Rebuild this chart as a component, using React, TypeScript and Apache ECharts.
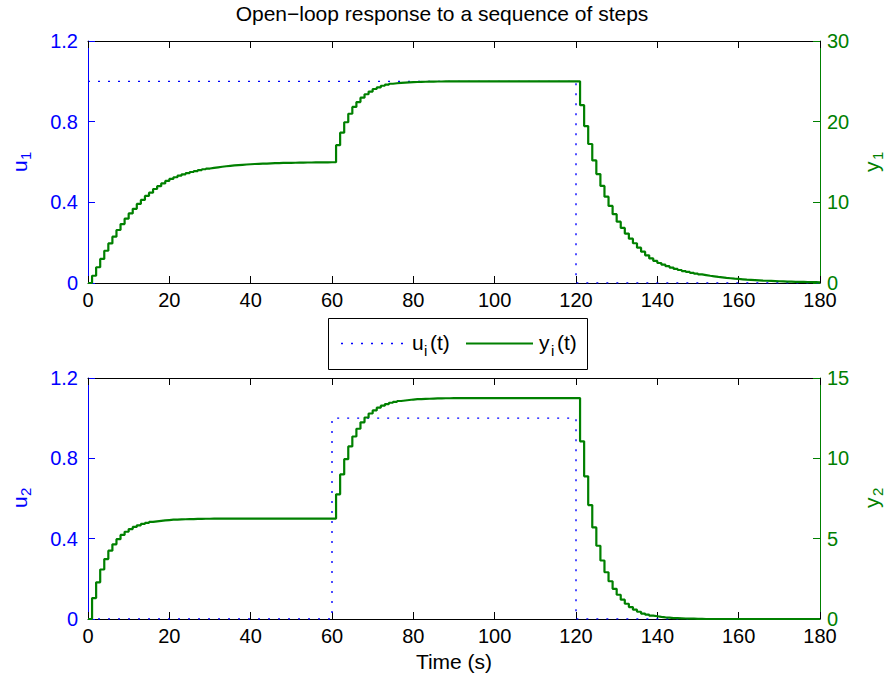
import React, { useEffect, useRef } from "react";
import * as echarts from "echarts";

// ---- data ----
const SAMPLE_TIME = 1; // seconds between samples of y1 / y2
const xTickValues = [0, 20, 40, 60, 80, 100, 120, 140, 160, 180];
const leftTicks = [0, 0.4, 0.8, 1.2];
const rightTicksTop = [0, 10, 20, 30];
const rightTicksBottom = [0, 5, 10, 15];

// input step sequences (held values, stairs)
const uTimes = [0, 60, 120, 180];
const u1Values = [1, 1, 0, 0];
const u2Values = [0, 1, 0, 0];

// sampled outputs, t = 0..180 s
const y1Values = [
  0, 0.9, 1.95, 2.98, 4.0, 4.9, 5.74, 6.57, 7.3, 7.97,
  8.63, 9.2, 9.8, 10.3, 10.8, 11.2, 11.65, 12.0, 12.35, 12.65,
  12.9, 13.11, 13.3, 13.47, 13.62, 13.76, 13.88, 14.0, 14.1, 14.19,
  14.27, 14.34, 14.41, 14.47, 14.52, 14.57, 14.61, 14.65, 14.69, 14.72,
  14.75, 14.77, 14.79, 14.81, 14.83, 14.85, 14.86, 14.88, 14.89, 14.9,
  14.91, 14.92, 14.93, 14.94, 14.94, 14.95, 14.95, 14.96, 14.96, 14.97,
  14.97, 17.08, 18.63, 19.93, 20.98, 21.83, 22.43, 22.98, 23.4, 23.73,
  24.05, 24.25, 24.45, 24.58, 24.7, 24.76, 24.81, 24.85, 24.88, 24.9,
  24.92, 24.94, 24.95, 24.96, 24.97, 24.98, 24.98, 24.99, 24.99, 25,
  25, 25, 25, 25, 25, 25, 25, 25, 25, 25,
  25, 25, 25, 25, 25, 25, 25, 25, 25, 25,
  25, 25, 25, 25, 25, 25, 25, 25, 25, 25,
  25, 22.05, 19.45, 17.23, 15.2, 13.5, 12.03, 10.7, 9.55, 8.53,
  7.6, 6.83, 6.13, 5.5, 4.93, 4.38, 3.88, 3.43, 3.05, 2.74,
  2.48, 2.27, 2.08, 1.91, 1.75, 1.61, 1.48, 1.37, 1.26, 1.16,
  1.06, 0.98, 0.9, 0.83, 0.76, 0.7, 0.64, 0.59, 0.54, 0.5,
  0.46, 0.42, 0.39, 0.36, 0.33, 0.3, 0.28, 0.26, 0.24, 0.22,
  0.2, 0.18, 0.17, 0.15, 0.14, 0.13, 0.12, 0.11, 0.1, 0.09,
  0.08,
];

const y2Values = [
  0, 1.3, 2.28, 3.08, 3.73, 4.25, 4.65, 4.97, 5.23, 5.43,
  5.6, 5.73, 5.83, 5.92, 5.98, 6.04, 6.08, 6.11, 6.14, 6.16,
  6.18, 6.19, 6.2, 6.21, 6.22, 6.22, 6.23, 6.23, 6.24, 6.24,
  6.25, 6.25, 6.25, 6.25, 6.25, 6.25, 6.25, 6.25, 6.25, 6.25,
  6.25, 6.25, 6.25, 6.25, 6.25, 6.25, 6.25, 6.25, 6.25, 6.25,
  6.25, 6.25, 6.25, 6.25, 6.25, 6.25, 6.25, 6.25, 6.25, 6.25,
  6.25, 7.76, 9.0, 9.95, 10.74, 11.36, 11.84, 12.24, 12.54, 12.79,
  12.98, 13.15, 13.28, 13.38, 13.46, 13.52, 13.57, 13.6, 13.63, 13.66,
  13.68, 13.69, 13.7, 13.71, 13.72, 13.73, 13.73, 13.74, 13.74, 13.75,
  13.75, 13.75, 13.75, 13.75, 13.75, 13.75, 13.75, 13.75, 13.75, 13.75,
  13.75, 13.75, 13.75, 13.75, 13.75, 13.75, 13.75, 13.75, 13.75, 13.75,
  13.75, 13.75, 13.75, 13.75, 13.75, 13.75, 13.75, 13.75, 13.75, 13.75,
  13.75, 11.06, 8.88, 7.09, 5.7, 4.56, 3.64, 2.91, 2.35, 1.88,
  1.51, 1.2, 0.95, 0.74, 0.58, 0.45, 0.34, 0.27, 0.21, 0.17,
  0.13, 0.1, 0.08, 0.06, 0.05, 0.04, 0.03, 0.02, 0.02, 0.01,
  0.01, 0, 0, 0, 0, 0, 0, 0, 0, 0,
  0, 0, 0, 0, 0, 0, 0, 0, 0, 0,
  0, 0, 0, 0, 0, 0, 0, 0, 0, 0,
  0,
];

const TITLE = "Open\u2212loop response to a sequence of steps";
const X_NAME = "Time (s)";

// ---- styles ----
const BLUE = "#0000ff";
const GREEN = "#008000";
const BLACK = "#000000";
const FONT = "Liberation Sans, Arial, Helvetica, sans-serif";
const TICK_FS = 20;
const TEXT_FS = 21;
const SUB_FS = 15;
const DOT = [2, 8];

const GRID_LEFT = 88;
const GRID_W = 732;
const GRIDS = [
  { top: 41, height: 242 },
  { top: 378, height: 241 },
];

function makeXAxes(gridIndex: number, withName: boolean) {
  const base = {
    gridIndex,
    type: "value" as const,
    min: xTickValues[0],
    max: xTickValues[xTickValues.length - 1],
    interval: xTickValues[1] - xTickValues[0],
    splitLine: { show: false },
    axisLine: { show: true, onZero: false, lineStyle: { color: BLACK, width: 1 } },
    axisTick: { show: true, inside: true, length: 7, lineStyle: { color: BLACK, width: 1 } },
  };
  return [
    {
      ...base,
      position: "bottom",
      axisLabel: { color: BLACK, fontSize: TICK_FS, fontFamily: FONT, margin: 9, lineHeight: 16 },
      ...(withName
        ? {
            name: X_NAME,
            nameLocation: "middle",
            nameGap: 32,
            nameTextStyle: { color: BLACK, fontSize: TEXT_FS, fontFamily: FONT },
          }
        : {}),
    },
    { ...base, position: "top", axisLabel: { show: false } },
  ];
}

function makeYAxis(gridIndex: number, position: string, ticks: number[], color: string) {
  return {
    gridIndex,
    type: "value",
    position,
    min: ticks[0],
    max: ticks[ticks.length - 1],
    interval: ticks[1] - ticks[0],
    splitLine: { show: false },
    axisLine: { show: true, onZero: false, lineStyle: { color, width: 1 } },
    axisTick: { show: true, inside: true, length: 7, lineStyle: { color, width: 1 } },
    axisLabel: {
      color,
      fontSize: TICK_FS,
      fontFamily: FONT,
      margin: position === "left" ? 10 : 7,
      lineHeight: 16,
      formatter: (v: number) => String(Math.round(v * 100) / 100),
    },
  };
}

const toSteps = (vals: number[]) => vals.map((v, i) => [i * SAMPLE_TIME, v]);
const toPairs = (ts: number[], vals: number[]) => ts.map((t, i) => [t, vals[i]]);

function axisName(x: number, y: number, main: string, sub: string, color: string) {
  return {
    type: "group",
    x,
    y,
    rotation: Math.PI / 2,
    children: [
      {
        type: "text",
        x: -10,
        y: 0,
        style: { text: main, fill: color, fontSize: TEXT_FS, fontFamily: FONT, align: "left", verticalAlign: "middle" },
      },
      {
        type: "text",
        x: 2,
        y: 6,
        style: { text: sub, fill: color, fontSize: SUB_FS, fontFamily: FONT, align: "left", verticalAlign: "middle" },
      },
    ],
  };
}

function legendLabel(x: number, y: number, main: string) {
  return [
    { type: "text", x, y, style: { text: main, fill: BLACK, fontSize: TEXT_FS, fontFamily: FONT, align: "left", verticalAlign: "middle" } },
    { type: "text", x: x + 12, y: y + 8, style: { text: "i", fill: BLACK, fontSize: SUB_FS, fontFamily: FONT, align: "left", verticalAlign: "middle" } },
    { type: "text", x: x + 18, y, style: { text: "(t)", fill: BLACK, fontSize: TEXT_FS, fontFamily: FONT, align: "left", verticalAlign: "middle" } },
  ];
}

export default function App() {
  const ref = useRef<HTMLDivElement>(null);

  useEffect(() => {
    if (!ref.current) return;
    const chart = echarts.init(ref.current, undefined, { renderer: "svg" });

    const lineCommon = {
      type: "line",
      showSymbol: false,
      symbol: "none",
      step: "end",
      silent: true,
      emphasis: { disabled: true },
    };

    const option: any = {
      animation: false,
      backgroundColor: "#ffffff",
      title: {
        text: TITLE,
        left: 442,
        top: 3,
        textAlign: "center",
        padding: 0,
        textStyle: { color: BLACK, fontSize: TEXT_FS, fontWeight: "normal", fontFamily: FONT },
      },
      grid: GRIDS.map((g) => ({ left: GRID_LEFT, width: GRID_W, top: g.top, height: g.height, containLabel: false })),
      xAxis: [...makeXAxes(0, false), ...makeXAxes(1, true)],
      yAxis: [
        makeYAxis(0, "left", leftTicks, BLUE),
        makeYAxis(0, "right", rightTicksTop, GREEN),
        makeYAxis(1, "left", leftTicks, BLUE),
        makeYAxis(1, "right", rightTicksBottom, GREEN),
      ],
      series: [
        { ...lineCommon, name: "u1", xAxisIndex: 0, yAxisIndex: 0, data: toPairs(uTimes, u1Values), lineStyle: { color: BLUE, width: 1.4, type: DOT } },
        { ...lineCommon, name: "y1", xAxisIndex: 0, yAxisIndex: 1, data: toSteps(y1Values), lineStyle: { color: GREEN, width: 2.2 } },
        { ...lineCommon, name: "u2", xAxisIndex: 2, yAxisIndex: 2, data: toPairs(uTimes, u2Values), lineStyle: { color: BLUE, width: 1.4, type: DOT } },
        { ...lineCommon, name: "y2", xAxisIndex: 2, yAxisIndex: 3, data: toSteps(y2Values), lineStyle: { color: GREEN, width: 2.2 } },
      ],
      graphic: [
        axisName(19, 162, "u", "1", BLUE),
        axisName(871, 162, "y", "1", GREEN),
        axisName(19, 498, "u", "2", BLUE),
        axisName(871, 498, "y", "2", GREEN),
        {
          type: "rect",
          shape: { x: 328.5, y: 318.5, width: 259, height: 51 },
          style: { fill: "#ffffff", stroke: BLACK, lineWidth: 1 },
        },
        {
          type: "line",
          shape: { x1: 341, y1: 343.5, x2: 404, y2: 343.5 },
          style: { stroke: BLUE, lineWidth: 1.4, lineDash: DOT },
        },
        ...legendLabel(412, 342, "u"),
        {
          type: "line",
          shape: { x1: 466, y1: 343.5, x2: 533, y2: 343.5 },
          style: { stroke: GREEN, lineWidth: 2.2 },
        },
        ...legendLabel(539, 342, "y"),
      ],
    };

    chart.setOption(option);
    return () => chart.dispose();
  }, []);

  return (
    <div
      ref={ref}
      style={{ position: "fixed", left: 0, top: 0, width: 888, height: 680, background: "#fff" }}
    />
  );
}
